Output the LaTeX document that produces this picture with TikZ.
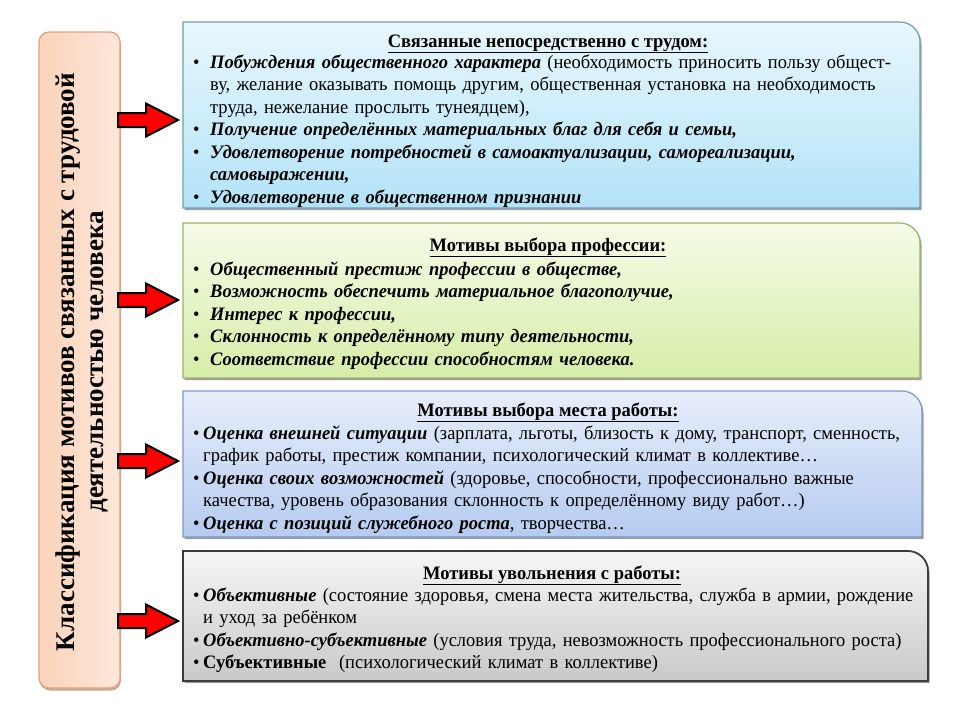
\documentclass[tikz,border=0pt]{standalone}
\usepackage{fontspec}
\setmainfont[FakeStretch=0.972]{Liberation Serif}
\newfontfamily\leftfont{Liberation Serif}
\usetikzlibrary{shadows,calc}
\definecolor{boneT}{HTML}{E8F7FD}\definecolor{boneB}{HTML}{B3E3F8}\definecolor{boneD}{HTML}{6E9FB4}
\definecolor{btwoT}{HTML}{F5FBE8}\definecolor{btwoB}{HTML}{D6EDA8}\definecolor{btwoD}{HTML}{9AB468}
\definecolor{bthrT}{HTML}{E7EEFB}\definecolor{bthrB}{HTML}{B6CBEF}\definecolor{bthrD}{HTML}{7A98C6}
\definecolor{bfouT}{HTML}{F6F6F6}\definecolor{bfouB}{HTML}{C9C9C9}\definecolor{bfouD}{HTML}{3C3C3C}
\definecolor{leftL}{HTML}{FBD3BA}\definecolor{leftR}{HTML}{FDE7DA}\definecolor{leftD}{HTML}{DCA37B}
\definecolor{arrred}{HTML}{FF0000}
\newcommand\bi[1]{\textbf{\textit{#1}}}
\newcommand\bitem[2]{\hangindent=#1\hangafter=1\noindent\makebox[#1][l]{•}#2\par}
\newcommand\mybox[5]{% x1 y1 x2 y2 style
  \path[#5] (#1,#4) -- (#1,#2) -- ($(#3,#2)+(-20,0)$) .. controls ($(#3,#2)+(-9,0)$) and ($(#3,#2)+(0,9)$) .. ($(#3,#2)+(0,20)$) -- (#3,#4) -- cycle;}
\newcommand\blockarrow[2]{%
  \draw[barrow] let \p1=(#1), \p2=(#2) in
   (\x1,\y1-7pt) -- (\x2-32pt,\y1-7pt) -- (\x2-32pt,\y1-16.5pt) -- (\x2,\y2)
   -- (\x2-32pt,\y1+16.5pt) -- (\x2-32pt,\y1+7pt) -- (\x1,\y1+7pt) -- cycle;}
\tikzset{
  x={(1pt,0)}, y={(0,-1pt)},
  boxshadow/.style={drop shadow={shadow xshift=1.5pt, shadow yshift=-2pt, opacity=0.55, fill=black!70}},
  rbox/.style n args={3}{draw=#3, line width=1.2pt, top color=#1, bottom color=#2, boxshadow},
  title/.style={anchor=base, inner sep=0, font=\fontsize{19}{22}\selectfont\bfseries},
  items/.style={anchor=base west, inner sep=0, text width=760pt, align=left, font=\fontsize{19}{22.5}\selectfont},
  barrow/.style={draw=black, line width=2pt, fill=arrred, line join=miter},
}
\begin{document}
\begin{tikzpicture}
\useasboundingbox (0,0) rectangle (960,720);
\fill[white] (0,0) rectangle (960,720);
% left box
\node[draw=leftD, line width=1.2pt, left color=leftL, right color=leftR, rounded corners=10pt,
  minimum width=81pt, minimum height=656pt, inner sep=0,
  drop shadow={shadow xshift=1pt, shadow yshift=-2.5pt, opacity=0.5, fill=brown!70!black}] (L) at (79.5,360) {};
\node[rotate=90, align=center, inner sep=0, font=\fontsize{27}{29}\leftfont\selectfont\bfseries] (LT) at (82,362)
  {Классификация мотивов связанных с трудовой\\деятельностью человека};
% boxes
\mybox{183}{22}{920}{208}{rbox={boneT}{boneB}{boneD}}
\mybox{183}{223}{920}{378}{rbox={btwoT}{btwoB}{btwoD}}
\mybox{183}{391}{922}{537}{rbox={bthrT}{bthrB}{bthrD}}
\mybox{183}{551}{928}{681}{rbox={bfouT}{bfouB}{bfouD}, line width=1.8pt}
% titles
\node[title] (h1) at (548,47) {\underline{Связанные непосредственно с трудом:}};
\node[title] (h2) at (548,251) {\underline{Мотивы выбора профессии:}};
\node[title] (h3) at (548,416) {\underline{Мотивы выбора места работы:}};
\node[title] (h4) at (552,579) {\underline{Мотивы увольнения с работы:}};
% items
\node[items] (t1) at (193,68) {%
\bitem{17pt}{\bi{Побуждения общественного характера} (необходимость приносить пользу общест-\newline ву, желание оказывать помощь другим, общественная установка на необходимость\newline труда, нежелание прослыть тунеядцем),}%
\bitem{17pt}{\bi{Получение определённых материальных благ для себя и семьи,}}%
\bitem{17pt}{\bi{Удовлетворение потребностей в самоактуализации, самореализации,\newline самовыражении,}}%
\bitem{17pt}{\bi{Удовлетворение в общественном признании}}};
\node[items] (t2) at (193,275) {%
\bitem{17pt}{\bi{Общественный престиж профессии в обществе,}}%
\bitem{17pt}{\bi{Возможность обеспечить материальное благополучие,}}%
\bitem{17pt}{\bi{Интерес к профессии,}}%
\bitem{17pt}{\bi{Склонность к определённому типу деятельности,}}%
\bitem{17pt}{\bi{Соответствие профессии способностям человека.}}};
\node[items] (t3) at (193,439) {%
\bitem{10pt}{\bi{Оценка внешней ситуации} (зарплата, льготы, близость к дому, транспорт, сменность,\newline график работы, престиж компании, психологический климат в коллективе…}%
\bitem{10pt}{\bi{Оценка своих возможностей} (здоровье, способности, профессионально важные\newline качества, уровень образования склонность к определённому виду работ…)}%
\bitem{10pt}{\bi{Оценка с позиций служебного роста}, творчества…}};
\node[items] (t4) at (193,601) {%
\bitem{10pt}{\bi{Объективные} (состояние здоровья, смена места жительства, служба в армии, рождение\newline и уход за ребёнком}%
\bitem{10pt}{\bi{Объективно-субъективные} (условия труда, невозможность профессионального роста)}%
\bitem{10pt}{\textbf{Субъективные}\ \ (психологический климат в коллективе)}};
% arrows
\coordinate (a1s) at (118,120); \coordinate (a1e) at (178,120);
\coordinate (a2s) at (118,300); \coordinate (a2e) at (178,300);
\coordinate (a3s) at (118,461); \coordinate (a3e) at (178,461);
\coordinate (a4s) at (118,621); \coordinate (a4e) at (178,621);
\blockarrow{a1s}{a1e}
\blockarrow{a2s}{a2e}
\blockarrow{a3s}{a3e}
\blockarrow{a4s}{a4e}
\end{tikzpicture}
\end{document}
